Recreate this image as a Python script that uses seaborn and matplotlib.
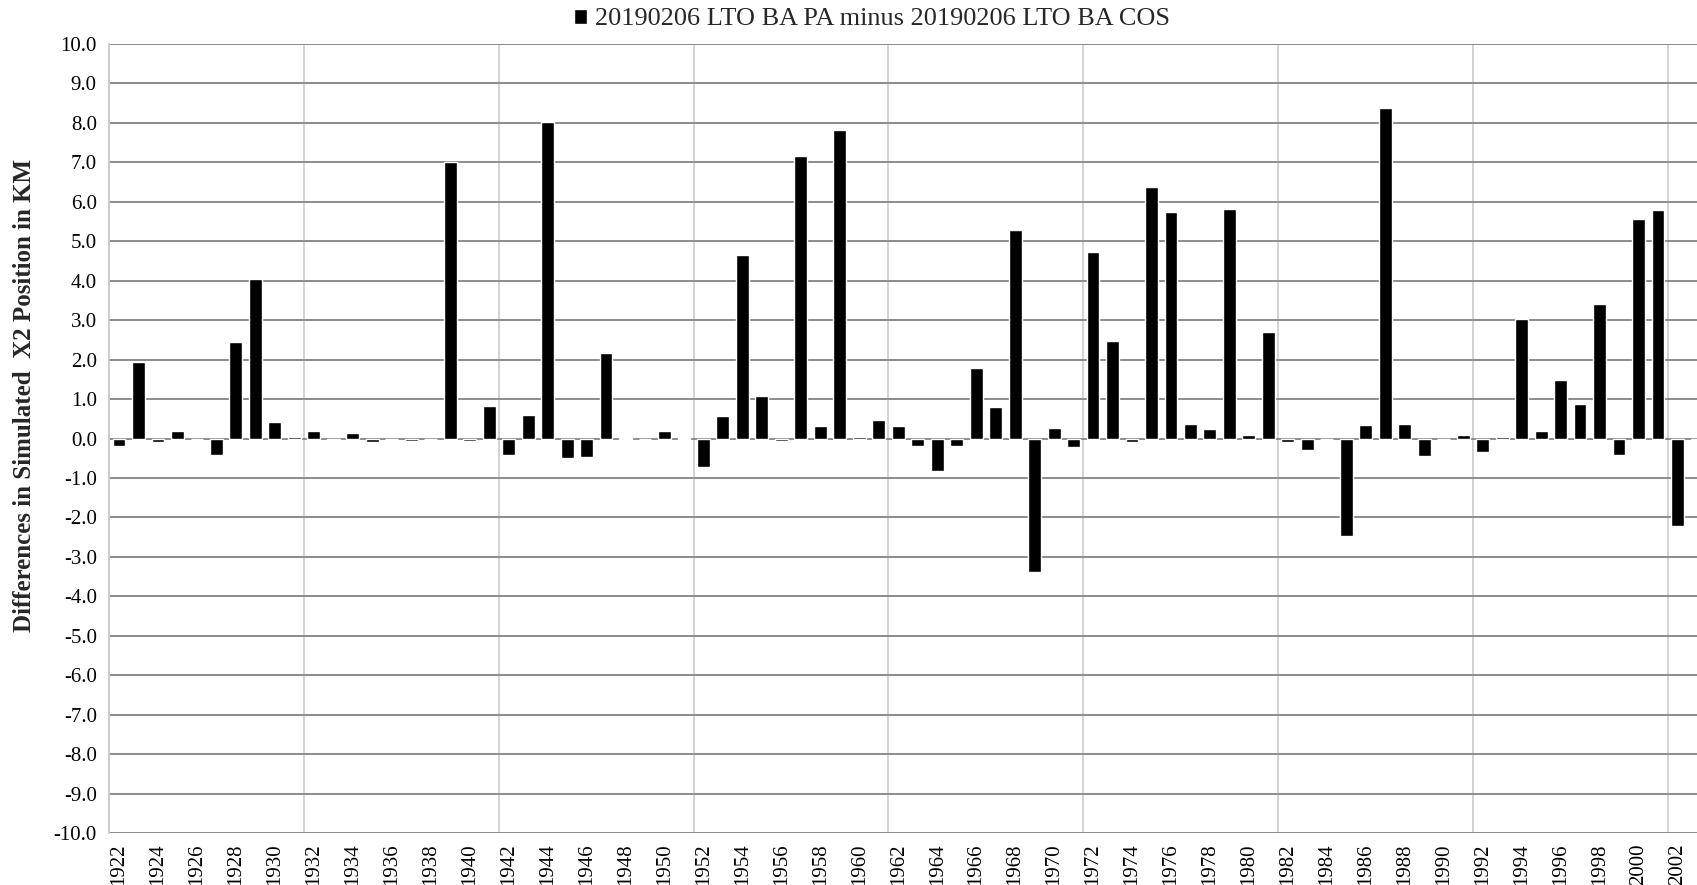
import matplotlib
matplotlib.use("Agg")
import matplotlib.pyplot as plt
import matplotlib.ticker as mticker
import seaborn as sns
import pandas as pd

# Water years 1922-2003
years = list(range(1922, 2004))

# Difference in simulated X2 position (km), PA minus COS
diff_km = [
    -0.18, 1.94, -0.10, 0.19, 0.00, -0.41, 2.45, 4.03, 0.42, 0.03,   # 1922-1931
    0.19, -0.03, 0.14, -0.10, 0.00, -0.07, 0.00, 7.00, -0.07, 0.83,  # 1932-1941
    -0.43, 0.59, 8.01, -0.49, -0.47, 2.17, 0.02, 0.00, 0.19, 0.02,   # 1942-1951
    -0.73, 0.57, 4.65, 1.08, -0.07, 7.15, 0.32, 7.82, 0.05, 0.47,    # 1952-1961
    0.32, -0.19, -0.82, -0.18, 1.78, 0.81, 5.29, -3.38, 0.26, -0.22, # 1962-1971
    4.72, 2.48, -0.09, 6.38, 5.74, 0.38, 0.245, 5.82, 0.08, 2.69,    # 1972-1981
    -0.08, -0.28, 0.00, -2.47, 0.34, 8.36, 0.36, -0.44, 0.00, 0.09,  # 1982-1991
    -0.35, 0.05, 3.02, 0.20, 1.48, 0.87, 3.40, -0.42, 5.57, 5.80,    # 1992-2001
    -2.21, -0.05,                                                    # 2002-2003
]

series_label = "20190206 LTO BA PA minus 20190206 LTO BA COS"
y_label = "Differences in Simulated  X2 Position in KM"
y_ticks = [v for v in range(-10, 11)]

df = pd.DataFrame({"year": [str(y) for y in years], "diff": diff_km})

sns.set_theme(style="white")
plt.rcParams["font.family"] = ["Liberation Serif", "DejaVu Serif"]

fig = plt.figure(figsize=(16.97, 8.85), dpi=100)
ax = fig.add_axes([0.0644, 0.0584, 0.9413, 0.8922])

sns.barplot(data=df, x="year", y="diff", color="black", width=0.66,
            saturation=1, label=series_label, ax=ax, zorder=3)

n = len(years)
ax.set_xlim(-0.5, n - 0.5)
ax.set_ylim(-10, 10)

# y axis: one-km steps, one decimal
ax.set_yticks(y_ticks)
ax.yaxis.set_major_formatter(mticker.FormatStrFormatter("%.1f"))
ax.grid(axis="y", which="major", color="#8c8c8c", linewidth=1.4, zorder=0)

# x axis: label every other year, light separators every ten years
ax.set_xticks(range(0, n, 2))
ax.set_xticklabels([str(y) for y in years[::2]], rotation=90)
ax.set_xticks([i + 9.5 for i in range(0, n - 10, 10)], minor=True)
ax.grid(axis="x", which="minor", color="#d0d0d0", linewidth=1.3, zorder=0)
ax.grid(axis="x", which="major", visible=False)

ax.tick_params(axis="both", which="both", length=0, labelsize=15,
               colors="black")
ax.tick_params(axis="x", pad=7)
ax.tick_params(axis="y", pad=9)

ax.set_xlabel("")
ax.set_ylabel("")
for side in ("top", "right", "bottom"):
    ax.spines[side].set_visible(False)
ax.spines["left"].set_color("#c8c8c8")
ax.spines["left"].set_linewidth(1.3)

fig.text(0.0147, 0.5537, y_label, rotation=90, ha="center", va="center",
         fontsize=18, fontweight="bold")

leg = ax.legend(loc="center", bbox_to_anchor=(0.514, 0.978),
                bbox_transform=fig.transFigure, frameon=False,
                fontsize=18.9, handlelength=0.5, handleheight=0.5,
                handletextpad=0.3)

fig.savefig("out.png", dpi=100)
